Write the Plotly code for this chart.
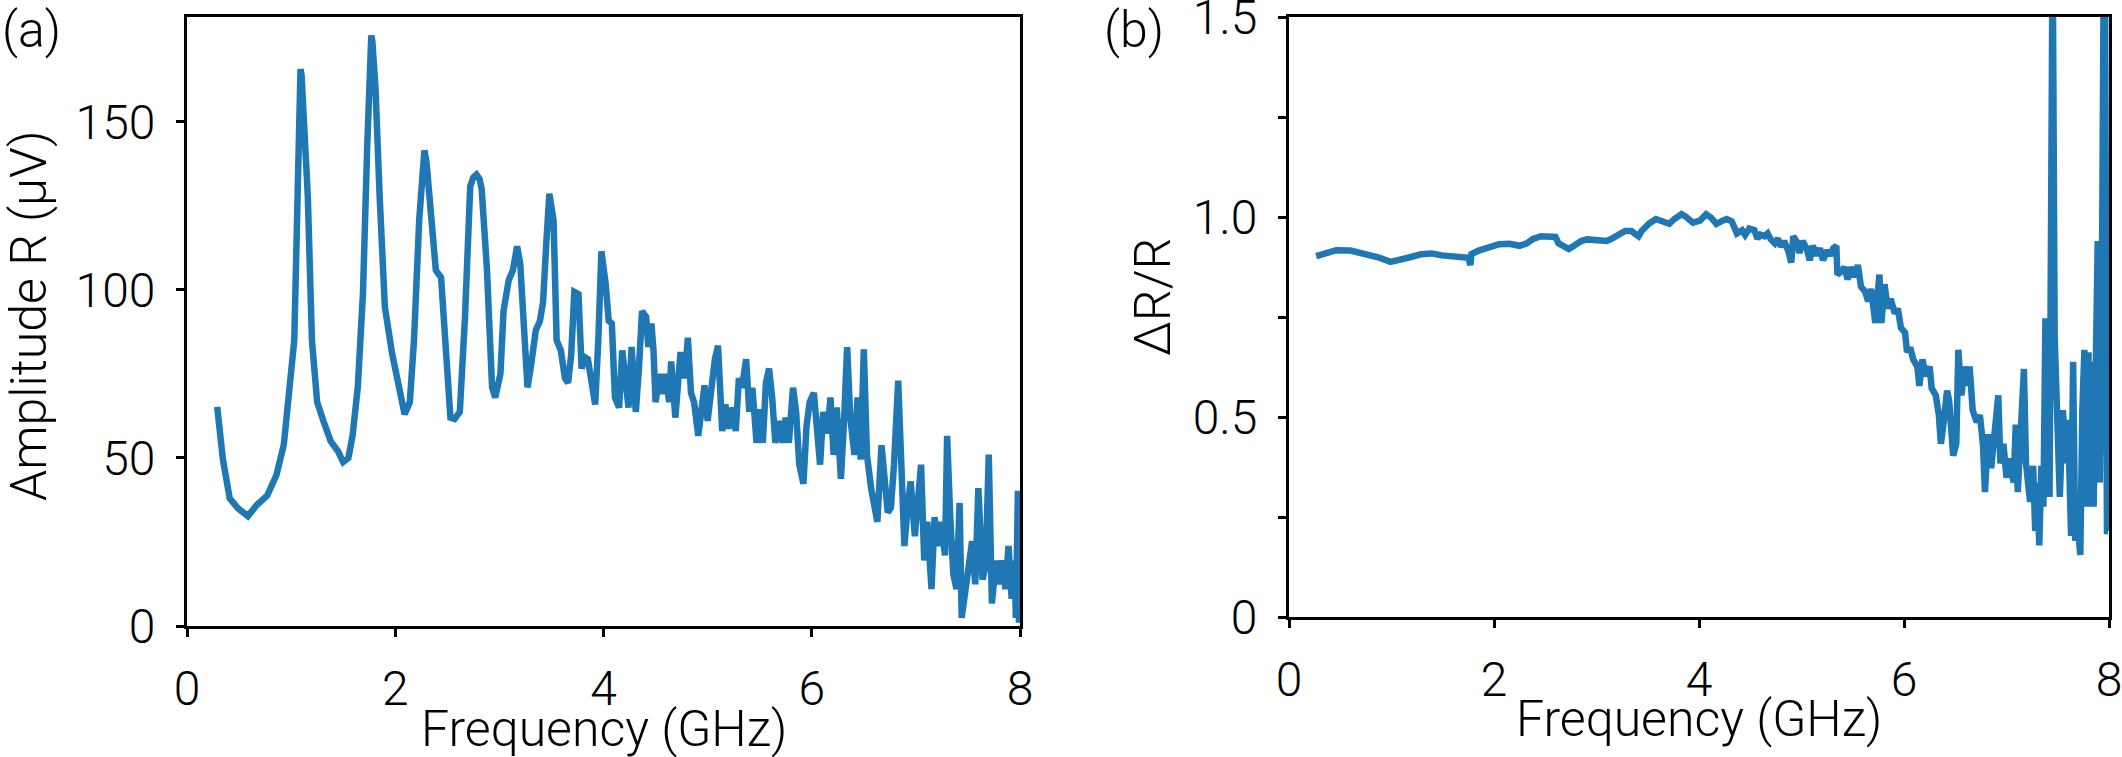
import plotly.graph_objects as go

# Panel (a): amplitude spectrum
freq_a = [0.29, 0.345, 0.41, 0.49, 0.585, 0.67, 0.77, 0.86, 0.93, 0.99, 1.03, 1.06, 1.07, 1.08, 1.09, 1.10, 1.11, 1.12, 1.16, 1.20, 1.25, 1.31, 1.38, 1.45, 1.50, 1.55, 1.59, 1.64, 1.69, 1.73, 1.75, 1.76, 1.77, 1.78, 1.79, 1.81, 1.85, 1.90, 1.97, 2.03, 2.09, 2.14, 2.18, 2.23, 2.26, 2.28, 2.30, 2.33, 2.39, 2.44, 2.49, 2.53, 2.57, 2.62, 2.67, 2.72, 2.75, 2.78, 2.81, 2.83, 2.88, 2.93, 2.96, 3.01, 3.04, 3.09, 3.13, 3.17, 3.20, 3.24, 3.27, 3.30, 3.35, 3.39, 3.42, 3.45, 3.48, 3.52, 3.55, 3.59, 3.63, 3.66, 3.69, 3.72, 3.76, 3.79, 3.82, 3.85, 3.89, 3.92, 3.95, 3.98, 4.02, 4.05, 4.08, 4.11, 4.15, 4.18, 4.21, 4.24, 4.27, 4.31, 4.34, 4.37, 4.41, 4.43, 4.46, 4.48, 4.50, 4.54, 4.57, 4.60, 4.63, 4.65, 4.69, 4.72, 4.74, 4.78, 4.81, 4.84, 4.87, 4.91, 4.94, 4.97, 5.00, 5.04, 5.07, 5.10, 5.14, 5.17, 5.20, 5.24, 5.27, 5.30, 5.33, 5.37, 5.40, 5.43, 5.47, 5.50, 5.53, 5.56, 5.59, 5.62, 5.65, 5.69, 5.72, 5.75, 5.78, 5.82, 5.85, 5.88, 5.92, 5.95, 5.98, 6.02, 6.05, 6.08, 6.11, 6.15, 6.18, 6.21, 6.24, 6.28, 6.31, 6.34, 6.37, 6.41, 6.44, 6.47, 6.50, 6.53, 6.57, 6.60, 6.63, 6.67, 6.70, 6.73, 6.76, 6.79, 6.83, 6.86, 6.89, 6.92, 6.95, 6.99, 7.02, 7.05, 7.08, 7.11, 7.15, 7.18, 7.21, 7.24, 7.28, 7.30, 7.33, 7.36, 7.39, 7.42, 7.44, 7.48, 7.51, 7.54, 7.57, 7.60, 7.64, 7.67, 7.70, 7.73, 7.77, 7.80, 7.83, 7.86, 7.89, 7.92, 7.95, 7.96, 7.98, 7.99]
amp_a = [65.2, 49.5, 38.0, 35.0, 32.7, 36.0, 38.8, 45.0, 54.0, 71.0, 85.0, 125.0, 148.0, 161.0, 165.7, 164.0, 157.0, 148.0, 128.0, 85.0, 66.6, 61.0, 55.0, 52.0, 48.8, 50.0, 56.6, 71.0, 99.0, 142.0, 163.0, 172.0, 175.7, 174.0, 169.0, 160.0, 128.0, 95.0, 81.0, 71.0, 63.0, 66.6, 85.0, 120.8, 136.0, 141.5, 138.0, 128.0, 105.8, 103.7, 82.0, 62.0, 61.6, 63.7, 92.0, 130.8, 133.5, 134.3, 133.0, 130.0, 106.5, 71.0, 68.0, 75.0, 93.7, 103.0, 105.8, 113.0, 108.0, 85.0, 71.0, 76.6, 88.0, 90.8, 96.5, 113.6, 128.6, 120.8, 85.0, 82.0, 73.7, 72.3, 80.8, 99.4, 98.7, 76.6, 80.0, 79.4, 72.3, 65.9, 85.0, 111.5, 102.0, 90.8, 90.0, 68.0, 65.0, 82.0, 73.7, 65.0, 83.0, 63.7, 76.6, 93.7, 92.0, 83.0, 90.0, 82.0, 66.6, 75.0, 69.0, 75.0, 66.6, 78.7, 62.0, 75.0, 81.5, 73.7, 85.8, 69.4, 66.6, 56.6, 65.0, 71.6, 61.0, 73.0, 79.4, 83.4, 58.0, 65.9, 58.7, 65.0, 58.0, 73.7, 70.9, 79.4, 63.7, 70.9, 54.5, 64.5, 54.5, 72.3, 76.6, 68.0, 54.5, 61.0, 54.5, 62.0, 54.5, 70.9, 63.7, 48.0, 42.3, 59.5, 66.6, 69.4, 56.6, 48.0, 63.7, 57.3, 68.0, 50.9, 65.0, 43.8, 61.0, 83.0, 62.0, 50.9, 68.0, 49.5, 82.3, 50.9, 41.0, 35.2, 31.0, 53.8, 42.3, 33.8, 35.2, 48.0, 73.0, 46.6, 23.8, 35.2, 43.0, 26.7, 35.2, 48.0, 19.5, 31.0, 11.0, 32.4, 23.8, 31.0, 21.0, 56.6, 32.4, 15.3, 11.0, 36.6, 2.4, 12.4, 19.5, 25.2, 12.4, 41.0, 13.8, 18.0, 51.0, 6.7, 19.5, 12.4, 19.5, 11.0, 23.8, 8.1, 19.5, 2.4, 40.2, 1.0]

# Panel (b): relative change
freq_b = [0.265, 0.36, 0.46, 0.60, 0.73, 0.86, 0.99, 1.09, 1.19, 1.29, 1.39, 1.49, 1.59, 1.69, 1.75, 1.77, 1.78, 1.85, 1.95, 2.05, 2.15, 2.25, 2.32, 2.38, 2.46, 2.55, 2.60, 2.63, 2.68, 2.73, 2.78, 2.85, 2.91, 3.01, 3.10, 3.15, 3.21, 3.28, 3.34, 3.41, 3.44, 3.51, 3.58, 3.64, 3.71, 3.76, 3.83, 3.87, 3.94, 4.01, 4.07, 4.12, 4.17, 4.23, 4.27, 4.32, 4.37, 4.42, 4.45, 4.49, 4.54, 4.57, 4.60, 4.64, 4.67, 4.70, 4.74, 4.77, 4.80, 4.83, 4.87, 4.90, 4.92, 4.95, 4.98, 5.01, 5.05, 5.08, 5.11, 5.15, 5.18, 5.21, 5.25, 5.28, 5.31, 5.34, 5.35, 5.38, 5.42, 5.45, 5.48, 5.52, 5.55, 5.58, 5.62, 5.65, 5.68, 5.72, 5.74, 5.76, 5.78, 5.81, 5.84, 5.87, 5.91, 5.94, 5.97, 6.01, 6.03, 6.06, 6.09, 6.13, 6.15, 6.18, 6.21, 6.25, 6.27, 6.31, 6.34, 6.36, 6.39, 6.42, 6.44, 6.48, 6.51, 6.53, 6.56, 6.59, 6.62, 6.64, 6.67, 6.71, 6.74, 6.77, 6.79, 6.82, 6.85, 6.89, 6.92, 6.94, 6.97, 7.00, 7.03, 7.07, 7.09, 7.11, 7.15, 7.17, 7.19, 7.23, 7.26, 7.28, 7.30, 7.32, 7.34, 7.36, 7.38, 7.40, 7.42, 7.44, 7.45, 7.47, 7.50, 7.52, 7.55, 7.58, 7.60, 7.63, 7.65, 7.67, 7.70, 7.72, 7.74, 7.76, 7.78, 7.80, 7.81, 7.83, 7.85, 7.87, 7.89, 7.91, 7.93, 7.95, 7.96, 7.98, 7.99]
ratio_b = [0.902, 0.910, 0.917, 0.916, 0.910, 0.900, 0.888, 0.892, 0.900, 0.907, 0.909, 0.904, 0.902, 0.900, 0.898, 0.880, 0.907, 0.916, 0.926, 0.932, 0.933, 0.928, 0.934, 0.945, 0.952, 0.952, 0.950, 0.934, 0.928, 0.920, 0.928, 0.940, 0.944, 0.943, 0.940, 0.946, 0.956, 0.965, 0.965, 0.952, 0.965, 0.983, 0.995, 0.991, 0.983, 0.995, 1.007, 1.001, 0.986, 0.991, 1.007, 0.998, 0.983, 0.991, 0.995, 0.989, 0.959, 0.967, 0.955, 0.971, 0.967, 0.946, 0.956, 0.952, 0.959, 0.944, 0.934, 0.946, 0.926, 0.940, 0.916, 0.886, 0.952, 0.940, 0.910, 0.940, 0.922, 0.892, 0.928, 0.904, 0.922, 0.892, 0.916, 0.904, 0.922, 0.928, 0.856, 0.862, 0.874, 0.844, 0.874, 0.850, 0.880, 0.826, 0.814, 0.789, 0.820, 0.735, 0.795, 0.856, 0.735, 0.832, 0.771, 0.795, 0.759, 0.771, 0.723, 0.711, 0.662, 0.674, 0.644, 0.626, 0.578, 0.644, 0.602, 0.626, 0.572, 0.554, 0.505, 0.433, 0.493, 0.566, 0.542, 0.403, 0.433, 0.668, 0.554, 0.626, 0.578, 0.626, 0.517, 0.487, 0.505, 0.433, 0.312, 0.457, 0.372, 0.481, 0.554, 0.384, 0.433, 0.348, 0.396, 0.336, 0.481, 0.312, 0.481, 0.620, 0.384, 0.288, 0.378, 0.215, 0.336, 0.179, 0.378, 0.276, 0.747, 0.626, 0.300, 1.70, 1.70, 0.699, 0.457, 0.300, 0.517, 0.384, 0.493, 0.203, 0.638, 0.191, 0.215, 0.155, 0.517, 0.668, 0.276, 0.662, 0.276, 0.638, 0.276, 0.674, 0.940, 0.336, 0.795, 1.70, 1.70, 0.215, 0.215]

x_ticks = [0, 2, 4, 6, 8]
x_ticktext = ["0", "2", "4", "6", "8"]
ya_ticks = [0, 50, 100, 150]
ya_ticktext = ["0", "50", "100", "150"]
yb_ticks = [0, 0.25, 0.5, 0.75, 1.0, 1.25, 1.5]
yb_ticktext = ["0", "", "0.5", "", "1.0", "", "1.5"]

W, H = 2122, 757
BLUE = "#1f77b4"
FAMILY = "Roboto, Liberation Sans, sans-serif"
TICKFONT = dict(family=FAMILY, size=48, color="black", weight=300)
TITLEFONT = dict(family=FAMILY, size=50, color="black", weight=300)


def px_x(p):
    return p / W


def px_y(p):
    return 1 - p / H


fig = go.Figure()
fig.add_trace(go.Scatter(x=freq_a, y=amp_a, mode="lines", line=dict(color=BLUE, width=6.5),
                         xaxis="x", yaxis="y", showlegend=False))
fig.add_trace(go.Scatter(x=freq_b, y=ratio_b, mode="lines", line=dict(color=BLUE, width=6.5),
                         xaxis="x2", yaxis="y2", showlegend=False))

axis_common = dict(showline=True, linecolor="black", linewidth=3, mirror=True,
                   ticks="outside", ticklen=8, tickwidth=3, tickcolor="black",
                   showgrid=False, zeroline=False, tickfont=TICKFONT,
                   ticklabeloverflow="allow", automargin=False)
xstand = dict(ticklabelstandoff=10)
ystand = dict(ticklabelstandoff=11)

fig.update_layout(
    template="none",
    width=W, height=H, margin=dict(l=0, r=0, t=0, b=0, pad=0, autoexpand=False),
    paper_bgcolor="white", plot_bgcolor="white",
    xaxis=dict(domain=[px_x(187), px_x(1020)], range=[0, 8], tickvals=x_ticks, ticktext=x_ticktext,
               anchor="y", **axis_common, **xstand),
    yaxis=dict(domain=[px_y(626), px_y(17)], range=[0, 181.2], tickvals=ya_ticks, ticktext=ya_ticktext,
               anchor="x", **axis_common, **ystand),
    xaxis2=dict(domain=[px_x(1289), px_x(2109)], range=[0, 8], tickvals=x_ticks, ticktext=x_ticktext,
                anchor="y2", **axis_common, **xstand),
    yaxis2=dict(domain=[px_y(617), px_y(17)], range=[0, 1.5], tickvals=yb_ticks, ticktext=yb_ticktext,
                anchor="x2", **axis_common, **ystand),
)

annos = [
    dict(text="Frequency (GHz)", x=px_x((187 + 1020) / 2), y=px_y(729), xanchor="center", yanchor="middle"),
    dict(text="Frequency (GHz)", x=px_x((1289 + 2109) / 2), y=px_y(719), xanchor="center", yanchor="middle"),
    dict(text="Amplitude R (μV)", x=px_x(29), y=px_y(316), xanchor="center", yanchor="middle", textangle=-90),
    dict(text="ΔR/R", x=px_x(1153), y=px_y(297), xanchor="center", yanchor="middle", textangle=-90),
    dict(text="(a)", x=px_x(0), y=px_y(30), xanchor="left", yanchor="middle"),
    dict(text="(b)", x=px_x(1102), y=px_y(30), xanchor="left", yanchor="middle"),
]
for a in annos:
    fig.add_annotation(xref="paper", yref="paper", showarrow=False, font=TITLEFONT, **a)

fig.write_html("out.html", config={"displayModeBar": False},
               post_script="document.body.style.margin='0';document.body.style.overflow='hidden';")
